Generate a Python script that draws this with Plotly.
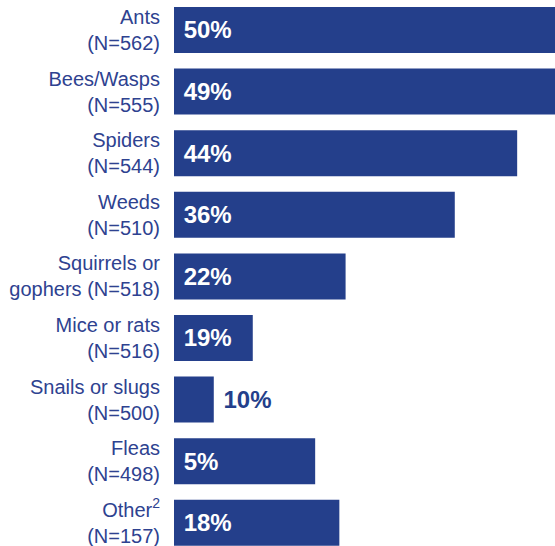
import plotly.graph_objects as go

categories = ["Ants<br>(N=562)", "Bees/Wasps<br>(N=555)", "Spiders<br>(N=544)",
              "Weeds<br>(N=510)", "Squirrels or<br>gophers (N=518)", "Mice or rats<br>(N=516)",
              "Snails or slugs<br>(N=500)", "Fleas<br>(N=498)", "Other<sup>2</sup><br>(N=157)"]
# bar lengths as drawn in the reference (in % units)
bar_lengths = [50, 49, 44, 36, 22, 10.1, 5.1, 18.1, 21.2]
# printed labels
labels = ["50%", "49%", "44%", "36%", "22%", "19%", "10%", "5%", "18%"]
positions = ["inside", "inside", "inside", "inside", "inside", "inside", "outside", "inside", "inside"]

X_MAX = 48.85  # visible right edge of the chart (longer bars are cut off there)
shown = [min(v, X_MAX) for v in bar_lengths]

NAVY = "#243F8B"
TEXT = "#2E4290"

fig = go.Figure(go.Bar(
    y=categories, x=shown, orientation="h",
    marker=dict(color=NAVY, line=dict(width=0)),
    text=labels, texttemplate=" %{text}", textposition=positions,
    insidetextanchor="start",
    insidetextfont=dict(color="white", size=24, family="Liberation Sans, Arial, sans-serif", weight="bold"),
    outsidetextfont=dict(color=NAVY, size=24, family="Liberation Sans, Arial, sans-serif", weight="bold"),
    cliponaxis=False, constraintext="none",
))

fig.update_layout(
    width=555, height=546, autosize=False,
    margin=dict(l=174, r=0, t=0, b=0),
    paper_bgcolor="white", plot_bgcolor="white",
    bargap=0.253, showlegend=False,
    xaxis=dict(visible=False, range=[0, X_MAX], showgrid=False, zeroline=False),
    yaxis=dict(type="category", range=[8.377, -0.487], showgrid=False, zeroline=False,
               showline=False, ticks="", ticklabelstandoff=13,
               tickfont=dict(color=TEXT, size=20, family="Liberation Sans, Arial, sans-serif")),
)

fig.write_html("out.html")
